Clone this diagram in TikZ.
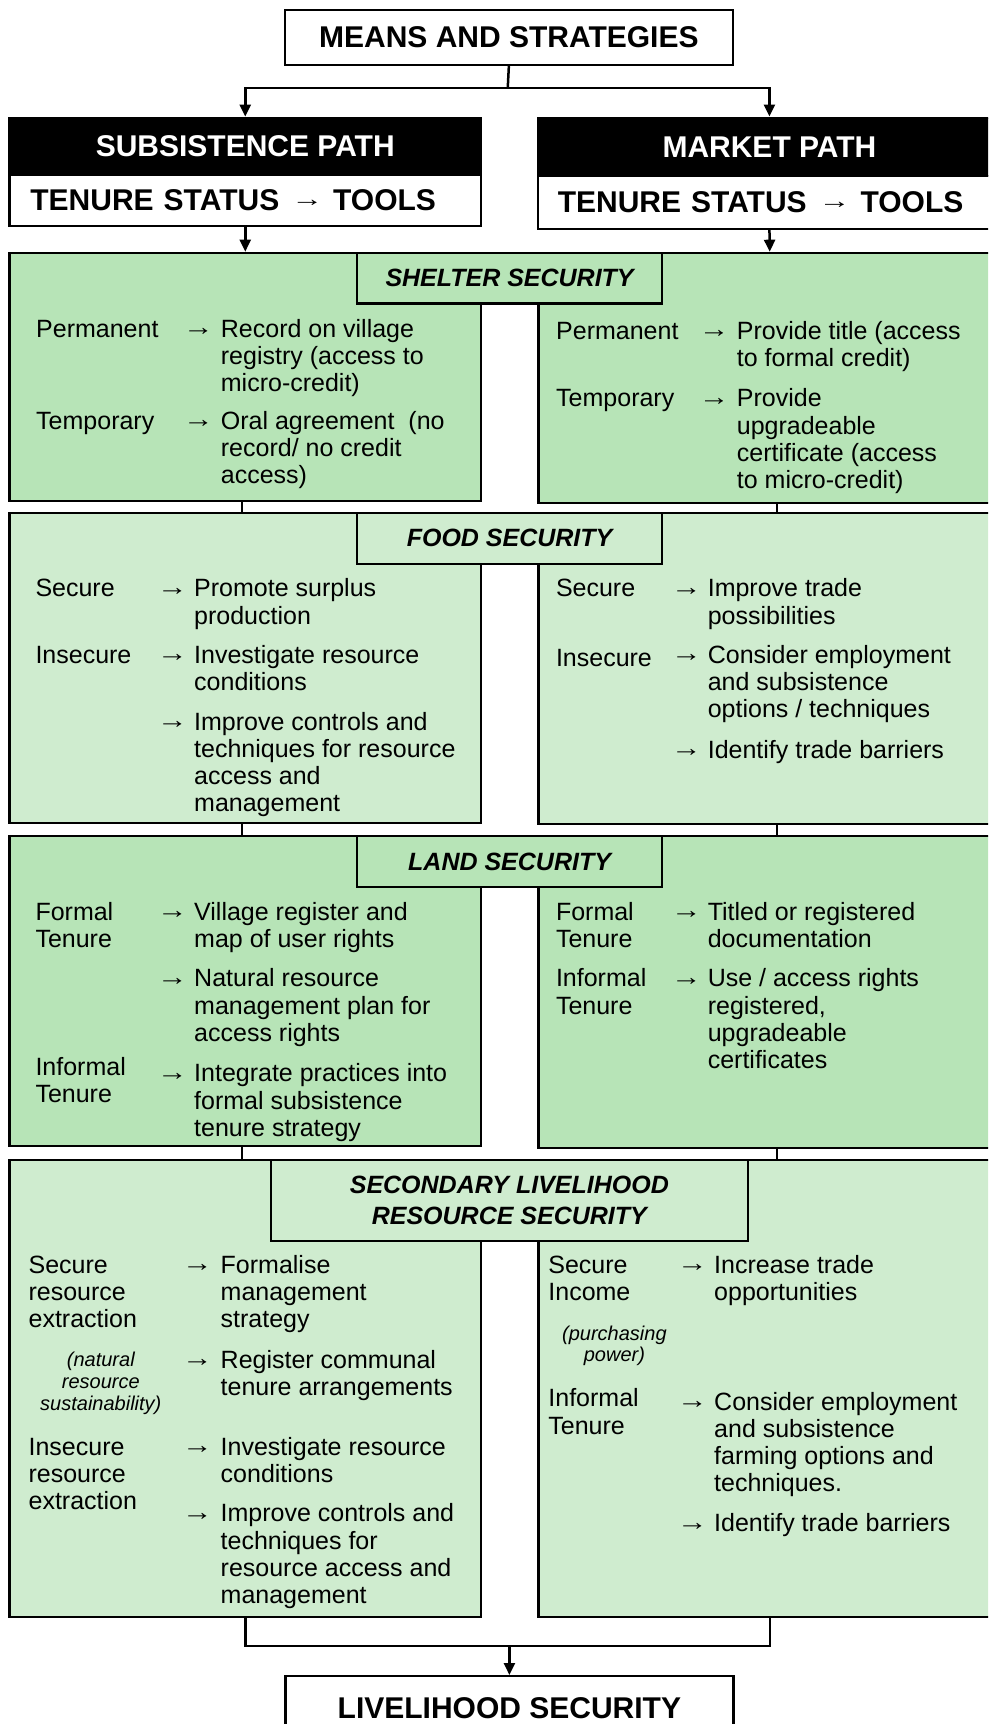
\documentclass[tikz,border=0pt]{standalone}
\usepackage{fontspec}
\setmainfont{Liberation Sans}
\usetikzlibrary{arrows.meta}
\definecolor{gdark}{RGB}{183,228,183}
\definecolor{glight}{RGB}{207,236,207}
\newcommand\myBody{\fontsize{25pt}{27.3pt}\selectfont}
\newcommand\myTitle{\fontsize{30pt}{32pt}\selectfont\bfseries}
\newcommand\myHead{\fontsize{25pt}{30.8pt}\selectfont\bfseries\itshape}
\newcommand\mySmall{\fontsize{20pt}{21.7pt}\selectfont\itshape}
\newcommand\tarr{\hspace{12pt}\raisebox{4pt}{\scalebox{1.45}[1]{\fontsize{22pt}{22pt}\selectfont →}}\hspace{10pt}}
\newcommand\ml[1]{\begin{tabular}[t]{@{}l@{}}#1\end{tabular}}
\newcommand\mc[1]{\begin{tabular}[t]{@{}c@{}}#1\end{tabular}}
\newcommand\ra{\raisebox{1.5pt}{\scalebox{1.22}[1]{→}}}
\begin{document}
\begin{tikzpicture}[x=1pt,y=-1pt,
  frame/.style={draw=black, line width=2.2pt, inner sep=0pt, anchor=north west},
  pathhead/.style={frame, fill=black, text=white, font=\myTitle},
  pathten/.style={frame, fill=white, font=\myTitle},
  secbox/.style={frame},
  sechead/.style={frame, font=\myHead, align=center},
  lbl/.style={anchor=base west, inner sep=0pt, font=\myBody},
  arw/.style={anchor=base west, inner sep=0pt, font=\myBody},
  note/.style={anchor=base, inner sep=0pt, font=\mySmall},
  conn/.style={draw=black, line width=2.5pt},
  tip/.style={-{Triangle[length=12pt,width=11pt]}}]
\useasboundingbox (0,0) rectangle (988,1724);
\fill[white] (0,0) rectangle (988,1724);
\clip (0,0) rectangle (988,1724);

% ---------- top ----------
\node[frame, fill=white, minimum width=448.5pt, minimum height=55.5pt, font=\myTitle] (means) at (283.5,8.5) {MEANS AND STRATEGIES};

\node[pathhead, minimum width=471.7pt, minimum height=57.5pt] (subsHead) at (8.3,116.5) {SUBSISTENCE PATH};
\node[pathten, minimum width=471.7pt, minimum height=51pt, text width=471.7pt, align=left] (subsTen) at (8.3,174) {\hspace{21pt}TENURE STATUS\tarr TOOLS};
\node[pathhead, minimum width=463.3pt, minimum height=58.5pt] (marketHead) at (536.7,116.5) {MARKET PATH};
\node[pathten, minimum width=463.3pt, minimum height=52.7pt, text width=463.3pt, align=left] (marketTen) at (536.7,175) {\hspace{20pt}TENURE STATUS\tarr TOOLS};

\coordinate (split) at (507.75,88);
\draw[conn] (means.south) -- (split);
\draw[conn,tip] (split) -| (subsHead.north);
\draw[conn,tip] (split) -| (marketHead.north);

% ---------- shelter ----------
\node[secbox, fill=gdark, minimum width=471.7pt, minimum height=248.3pt] (shelterL) at (8.3,251.7) {};
\node[secbox, fill=gdark, minimum width=462.7pt, minimum height=250pt] (shelterR) at (537.3,251.7) {};
\node[sechead, fill=gdark, minimum width=305pt, minimum height=50.6pt] (shelterH) at (356,251.7) {SHELTER SECURITY};
\draw[conn,tip] (subsTen.south) -- (shelterL.north);
\draw[conn,tip] (marketTen.south) -- (shelterR.north);

\node[lbl] (shLa) at (36,337.3) {Permanent};
\node[arw] (shLa1) at (183,337.3) {\ra};
\node[lbl] (shLt1) at (220.7,337.3) {\ml{Record on village\\registry (access to\\micro-credit)}};
\node[lbl] (shLb) at (36,429.3) {Temporary};
\node[arw] (shLb1) at (183,429.3) {\ra};
\node[lbl] (shLt2) at (220.7,429.3) {\ml{Oral agreement\ \ (no\\record/ no credit\\access)}};

\node[lbl] (shRa) at (556,339) {Permanent};
\node[arw] (shRa1) at (698.7,339) {\ra};
\node[lbl] (shRt1) at (736.7,339) {\ml{Provide title (access\\to formal credit)}};
\node[lbl] (shRb) at (556,406.7) {Temporary};
\node[arw] (shRb1) at (698.7,406.7) {\ra};
\node[lbl] (shRt2) at (736.7,406.7) {\ml{Provide\\upgradeable\\certificate (access\\to micro-credit)}};

% ---------- food ----------
\node[secbox, fill=glight, minimum width=471.7pt, minimum height=310pt] (foodL) at (8.3,511.7) {};
\node[secbox, fill=glight, minimum width=462.7pt, minimum height=311.3pt] (foodR) at (537.3,511.7) {};
\node[sechead, fill=glight, minimum width=305pt, minimum height=51pt] (foodH) at (356,511.7) {FOOD SECURITY};
\draw[conn] ([xshift=-3.5pt]shelterL.south) -- ([xshift=-3.5pt]foodL.north);
\draw[conn] ([xshift=7.4pt]shelterR.south) -- ([xshift=7.4pt]foodR.north);

\node[lbl] (fdLa) at (35.3,596.7) {Secure};
\node[arw] (fdLa1) at (156.8,596.7) {\ra};
\node[lbl] (fdLt1) at (194,596.7) {\ml{Promote surplus\\production}};
\node[lbl] (fdLb) at (35.3,663.3) {Insecure};
\node[arw] (fdLb1) at (156.8,663.3) {\ra};
\node[lbl] (fdLt2) at (194,663.3) {\ml{Investigate resource\\conditions}};
\node[arw] (fdLb2) at (156.8,730) {\ra};
\node[lbl] (fdLt3) at (194,730) {\ml{Improve controls and\\techniques for resource\\access and\\management}};

\node[lbl] (fdRa) at (555.8,596.7) {Secure};
\node[arw] (fdRa1) at (671,596.7) {\ra};
\node[lbl] (fdRt1) at (707.6,596.7) {\ml{Improve trade\\possibilities}};
\node[lbl] (fdRb) at (555.8,666.7) {Insecure};
\node[arw] (fdRb1) at (671,663.3) {\ra};
\node[lbl] (fdRt2) at (707.6,663.3) {\ml{Consider employment\\and subsistence\\options / techniques}};
\node[arw] (fdRb2) at (671,758.3) {\ra};
\node[lbl] (fdRt3) at (707.6,758.3) {Identify trade barriers};

% ---------- land ----------
\node[secbox, fill=gdark, minimum width=471.7pt, minimum height=310pt] (landL) at (8.3,835) {};
\node[secbox, fill=gdark, minimum width=462.7pt, minimum height=311.7pt] (landR) at (537.3,835) {};
\node[sechead, fill=gdark, minimum width=305pt, minimum height=51pt] (landH) at (356,835) {LAND SECURITY};
\draw[conn] ([xshift=-3.5pt]foodL.south) -- ([xshift=-3.5pt]landL.north);
\draw[conn] ([xshift=7.4pt]foodR.south) -- ([xshift=7.4pt]landR.north);

\node[lbl] (ldLa) at (35.3,920) {\ml{Formal\\Tenure}};
\node[arw] (ldLa1) at (156.8,920) {\ra};
\node[lbl] (ldLt1) at (194,920) {\ml{Village register and\\map of user rights}};
\node[arw] (ldLa2) at (156.8,986.7) {\ra};
\node[lbl] (ldLt2) at (194,986.7) {\ml{Natural resource\\management plan for\\access rights}};
\node[lbl] (ldLb) at (35.3,1075) {\ml{Informal\\Tenure}};
\node[arw] (ldLb1) at (156.8,1081.7) {\ra};
\node[lbl] (ldLt3) at (194,1081.7) {\ml{Integrate practices into\\formal subsistence\\tenure strategy}};

\node[lbl] (ldRa) at (555.8,920) {\ml{Formal\\Tenure}};
\node[arw] (ldRa1) at (671,920) {\ra};
\node[lbl] (ldRt1) at (707.6,920) {\ml{Titled or registered\\documentation}};
\node[lbl] (ldRb) at (555.8,986.7) {\ml{Informal\\Tenure}};
\node[arw] (ldRb1) at (671,986.7) {\ra};
\node[lbl] (ldRt2) at (707.6,986.7) {\ml{Use / access rights\\registered,\\upgradeable\\certificates}};

% ---------- secondary ----------
\node[secbox, fill=glight, minimum width=471.7pt, minimum height=456.5pt] (secL) at (8.3,1159) {};
\node[secbox, fill=glight, minimum width=462.7pt, minimum height=456.5pt] (secR) at (537.3,1159) {};
\node[sechead, fill=glight, minimum width=476.5pt, minimum height=81pt] (secH) at (270,1159) {SECONDARY LIVELIHOOD\\RESOURCE SECURITY};
\draw[conn] ([xshift=-3.5pt]landL.south) -- ([xshift=-3.5pt]secL.north);
\draw[conn] ([xshift=7.4pt]landR.south) -- ([xshift=7.4pt]secR.north);

\node[lbl] (scLa) at (28.4,1273.3) {\ml{Secure\\resource\\extraction}};
\node[note] (scLn) at (100.8,1366.7) {\mc{(natural\\resource\\sustainability)}};
\node[arw] (scLa1) at (182,1273.3) {\ra};
\node[lbl] (scLt1) at (220.5,1273.3) {\ml{Formalise\\management\\strategy}};
\node[arw] (scLa2) at (182,1368.3) {\ra};
\node[lbl] (scLt2) at (220.5,1368.3) {\ml{Register communal\\tenure arrangements}};
\node[lbl] (scLb) at (28.4,1455) {\ml{Insecure\\resource\\extraction}};
\node[arw] (scLb1) at (182,1455) {\ra};
\node[lbl] (scLt3) at (220.5,1455) {\ml{Investigate resource\\conditions}};
\node[arw] (scLb2) at (182,1521.7) {\ra};
\node[lbl] (scLt4) at (220.5,1521.7) {\ml{Improve controls and\\techniques for\\resource access and\\management}};

\node[lbl] (scRa) at (548.2,1273.3) {\ml{Secure\\Income}};
\node[note] (scRn) at (614.4,1340) {\mc{(purchasing\\power)}};
\node[arw] (scRa1) at (677,1273.3) {\ra};
\node[lbl] (scRt1) at (714,1273.3) {\ml{Increase trade\\opportunities}};
\node[lbl] (scRb) at (548.2,1406.7) {\ml{Informal\\Tenure}};
\node[arw] (scRb1) at (677,1410) {\ra};
\node[lbl] (scRt2) at (714,1410) {\ml{Consider employment\\and subsistence\\farming options and\\techniques.}};
\node[arw] (scRb2) at (677,1531.7) {\ra};
\node[lbl] (scRt3) at (714,1531.7) {Identify trade barriers};

% ---------- bottom ----------
\node[frame, fill=white, minimum width=448pt, minimum height=64pt, font=\myTitle] (live) at (284.3,1675) {LIVELIHOOD SECURITY};
\draw[conn] (secL.south) -- ++(0,28.5) coordinate (bl) -| (secR.south);
\coordinate (merge) at (live.north |- bl);
\draw[conn,tip] (merge) -- (live.north);
\end{tikzpicture}
\end{document}
